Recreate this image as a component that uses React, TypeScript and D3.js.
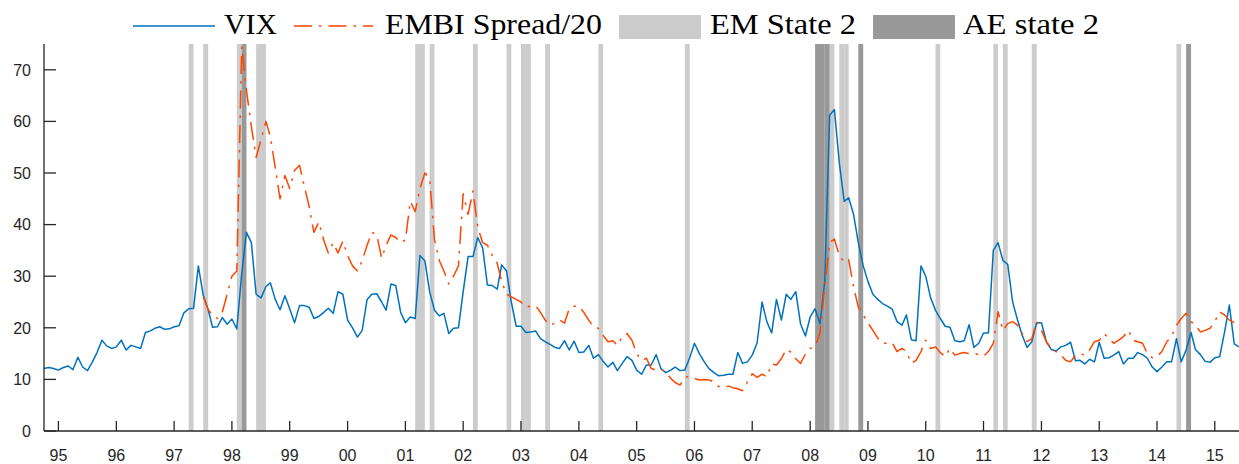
import * as d3 from 'd3'

const W = 1239
const H = 464
const LEFT = 44
const RIGHT = 1239
const TOP = 44
const BOTTOM = 431

// monthly values, first one is March 1995, each plotted at the end of its month
const VIX_START = '1995-03'
const VIX = [
  12.1, 12.3, 12.1, 11.8, 12.3, 12.6, 11.9, 14.3, 12.4, 11.7, 13.4, 15.2,
  17.6, 16.5, 16.0, 16.3, 17.6, 15.7, 16.6, 16.3, 16.0, 19.1, 19.4, 19.9,
  20.2, 19.7, 19.8, 20.2, 20.4, 22.9, 23.7, 23.8, 32.0, 26.3, 23.5, 20.1,
  20.2, 22.0, 20.7, 21.7, 19.8, 30.5, 38.5, 36.5, 26.5, 25.8, 28.0, 28.7,
  25.5, 23.5, 26.2, 23.7, 21.0, 24.3, 24.3, 24.0, 21.8, 22.2, 23.0, 23.8,
  22.8, 27.0, 26.5, 21.5, 20.0, 18.2, 19.5, 25.5, 26.5, 26.6, 25.0, 23.4,
  28.5, 28.2, 23.0, 21.0, 22.1, 21.8, 34.0, 33.0, 27.0, 23.4, 22.3, 22.8,
  18.9, 19.9, 20.0, 27.0, 33.8, 33.8, 37.5, 35.5, 28.3, 28.2, 27.5, 32.2,
  31.0, 25.0, 20.3, 20.3, 19.1, 19.2, 19.4, 17.9, 17.3, 16.8, 16.2, 16.0,
  17.5, 15.7, 17.4, 15.2, 15.3, 16.6, 14.1, 14.8, 13.5, 12.4, 13.3, 11.7,
  13.1, 14.4, 13.7, 11.8, 11.0, 12.8, 12.8, 14.8, 12.1, 11.3, 11.8, 12.4,
  11.7, 11.8, 14.2, 17.0, 15.0, 13.4, 12.1, 11.3, 10.7, 10.8, 11.0, 11.0,
  15.2, 13.1, 13.4, 14.7, 17.1, 25.0, 21.2, 19.0, 25.5, 21.5, 26.5, 25.5,
  27.0, 20.8, 18.4, 22.1, 23.7, 20.8, 29.0, 61.2, 62.3, 52.0, 44.5, 45.2,
  42.0, 36.5, 32.0, 29.0, 26.5, 25.5, 24.7, 24.2, 23.6, 21.2, 20.5, 22.5,
  17.7, 17.5, 32.0, 30.0, 25.8, 23.4, 21.8, 20.3, 20.1, 17.5, 17.3, 17.5,
  20.6, 16.2, 17.0, 19.0, 19.0, 35.0, 36.5, 33.0, 32.3, 25.0, 21.5, 18.6,
  16.2, 17.3, 21.0, 21.0, 17.3, 15.8, 15.5, 16.3, 16.6, 17.2, 13.6, 13.7,
  13.0, 13.9, 13.4, 17.2, 14.1, 14.2, 14.7, 15.4, 13.0, 14.1, 14.1, 15.2,
  14.8, 14.1, 12.4, 11.5, 12.4, 13.4, 13.4, 17.9, 13.4, 15.7, 19.1, 15.8,
  14.8, 13.5, 13.3, 14.2, 14.4, 19.2, 24.4, 16.9, 16.3,
]

// EMBI spread divided by 20, first value is December 1997
const EMBI_START = '1997-12'
const EMBI = [
  26.0, 23.5, 22.5, 21.8, 23.0, 26.5, 30.0, 31.0, 74.5, 66.0, 59.0, 53.0,
  56.5, 60.0, 57.0, 51.0, 45.0, 49.5, 47.0, 50.5, 51.5, 47.5, 43.5, 38.5,
  40.5, 37.0, 34.5, 36.5, 34.5, 36.8, 34.0, 32.0, 31.0, 33.0, 36.0, 38.5,
  38.0, 33.5, 36.0, 38.0, 37.5, 36.5, 37.0, 44.5, 42.5, 47.0, 50.0, 49.0,
  37.0, 33.0, 31.0, 28.5, 30.0, 32.0, 46.0, 42.0, 46.5, 39.5, 36.5, 36.0,
  34.0, 32.5, 29.0, 26.5, 26.0, 25.5, 25.0, 24.0, 24.2, 24.3, 23.0, 21.5,
  20.5, 20.9, 21.5, 20.9, 23.7, 24.2, 24.2, 23.0, 21.5, 20.2, 19.9, 18.5,
  17.3, 17.5, 16.6, 18.3, 18.9, 17.6, 15.0, 13.7, 14.1, 12.1, 11.8, 11.9,
  11.5, 10.2, 9.4, 8.9, 10.4, 10.6, 10.2, 9.9, 10.0, 9.9, 9.5, 8.6,
  8.4, 8.7, 8.4, 8.2, 7.8, 9.5, 11.1, 10.4, 11.0, 10.5, 13.0, 12.8,
  14.0, 15.8, 15.3, 14.0, 13.1, 14.9, 16.0, 16.3, 19.0, 28.0, 36.5, 37.2,
  34.0, 32.7, 33.2, 28.0, 24.0, 22.5, 21.0, 19.5, 18.0, 17.0, 17.0, 17.1,
  15.4, 16.0, 15.4, 13.1, 13.7, 15.4, 17.6, 16.0, 16.3, 15.2, 14.4, 16.0,
  14.7, 15.0, 15.2, 15.0, 15.0, 14.8, 14.5, 15.4, 17.0, 23.1, 19.5, 20.8,
  21.2, 20.5, 18.9, 17.3, 17.9, 21.2, 19.5, 17.3, 16.0, 15.4, 14.7, 13.7,
  13.4, 14.7, 15.0, 14.7, 15.7, 17.3, 17.6, 18.9, 17.9, 17.0, 17.6, 18.3,
  19.5, 17.6, 17.3, 17.0, 15.0, 14.2, 14.4, 15.4, 17.3, 18.3, 20.5, 21.8,
  22.8, 21.2, 20.5, 19.2, 19.5, 19.9, 21.2, 23.1, 22.5, 21.5, 21.0,
]

// months classified as state 2
const EM_STATE2 = [
  '1997-10', '1998-01', '1998-08', '1998-12', '1999-01', '2001-09', '2001-10',
  '2001-12', '2002-09', '2003-04', '2003-07', '2003-08', '2003-12', '2004-11',
  '2006-05', '2008-11', '2009-01', '2009-02', '2010-09', '2011-09', '2011-11',
  '2012-05', '2014-11',
]
const AE_STATE2 = ['1998-09', '2008-08', '2008-09', '2008-10', '2009-05', '2015-01']

const YEARS = d3.range(1995, 2016)
const Y_TICKS = [0, 10, 20, 30, 40, 50, 60, 70]

const BLUE = '#0072BD'
const ORANGE = '#FF4500'
const EM_GREY = '#cccccc'
const AE_GREY = '#999999'
const INK = '#262626'

const parseMonth = d3.timeParse('%Y-%m')

function toPoints(start: string, values: number[]) {
  const first = parseMonth(start) as Date
  // value for a month sits at the end of that month
  return values.map((v, i) => ({ date: d3.timeMonth.offset(first, i + 1), value: v }))
}

export default function App() {
  const x = d3.scaleTime()
    .domain([new Date(1995, 3, 1), new Date(2015, 11, 1)])
    .range([LEFT, RIGHT])
  const y = d3.scaleLinear().domain([0, 75]).range([BOTTOM, TOP])

  const line = d3.line<{ date: Date; value: number }>()
    .x(d => x(d.date))
    .y(d => y(d.value))

  const vixPts = toPoints(VIX_START, VIX)
  const embiPts = toPoints(EMBI_START, EMBI)

  const band = (m: string, fill: string) => {
    const d0 = parseMonth(m) as Date
    const x0 = x(d0)
    const x1 = x(d3.timeMonth.offset(d0, 1))
    return <rect key={fill + m} x={x0} y={TOP} width={x1 - x0} height={BOTTOM - TOP} fill={fill} />
  }

  const serif = '"Liberation Serif", "Times New Roman", serif'
  const sans = '"Liberation Sans", Arial, Helvetica, sans-serif'

  return (
    <svg
      width={W}
      height={H}
      viewBox={`0 0 ${W} ${H}`}
      style={{ position: 'absolute', left: 0, top: 0, background: '#fff' }}
    >
      <defs>
        <clipPath id="plot">
          <rect x={LEFT} y={TOP} width={RIGHT - LEFT} height={BOTTOM - TOP} />
        </clipPath>
      </defs>

      {/* state shading */}
      <g>
        {EM_STATE2.map(m => band(m, EM_GREY))}
        {AE_STATE2.map(m => band(m, AE_GREY))}
      </g>

      {/* series */}
      <g clipPath="url(#plot)" fill="none" strokeLinejoin="round">
        <path d={line(vixPts) ?? ''} stroke={BLUE} strokeWidth={1.5} />
        <path d={line(embiPts) ?? ''} stroke={ORANGE} strokeWidth={1.5} strokeDasharray="18 7 2.5 7" />
      </g>

      {/* y axis */}
      <g stroke={INK} strokeWidth={1.3}>
        <line x1={LEFT} x2={LEFT} y1={TOP} y2={BOTTOM} />
        <line x1={LEFT} x2={RIGHT} y1={BOTTOM} y2={BOTTOM} />
        {Y_TICKS.map(t => (
          <line key={'yt' + t} x1={LEFT} x2={LEFT + 12} y1={y(t)} y2={y(t)} />
        ))}
        {YEARS.map(yr => {
          const xx = x(new Date(yr, 6, 1))
          return <line key={'xt' + yr} x1={xx} x2={xx} y1={BOTTOM} y2={BOTTOM - 10} />
        })}
      </g>
      <g fontFamily={sans} fontSize={16} fill={INK}>
        {Y_TICKS.map(t => (
          <text key={'yl' + t} x={31} y={y(t)} dy="0.36em" textAnchor="end">{t}</text>
        ))}
        {YEARS.map(yr => (
          <text key={'xl' + yr} x={x(new Date(yr, 6, 1))} y={461} textAnchor="middle">
            {String(yr % 100).padStart(2, '0')}
          </text>
        ))}
      </g>

      {/* legend */}
      <g fontFamily={serif} fontSize={29} fill="#000">
        <line x1={133} x2={215} y1={26} y2={26} stroke={BLUE} strokeWidth={1.5} />
        <text x={224} y={34} textLength={53} lengthAdjust="spacingAndGlyphs">VIX</text>
        <line x1={294} x2={373} y1={26} y2={26} stroke={ORANGE} strokeWidth={1.5} strokeDasharray="18 7 2.5 7" />
        <text x={385} y={34} textLength={217} lengthAdjust="spacingAndGlyphs">EMBI Spread/20</text>
        <rect x={619} y={15} width={82} height={24} fill={EM_GREY} />
        <text x={710} y={34} textLength={146} lengthAdjust="spacingAndGlyphs">EM State 2</text>
        <rect x={873} y={15} width={82} height={24} fill={AE_GREY} />
        <text x={963} y={34} textLength={136} lengthAdjust="spacingAndGlyphs">AE state 2</text>
      </g>
    </svg>
  )
}
